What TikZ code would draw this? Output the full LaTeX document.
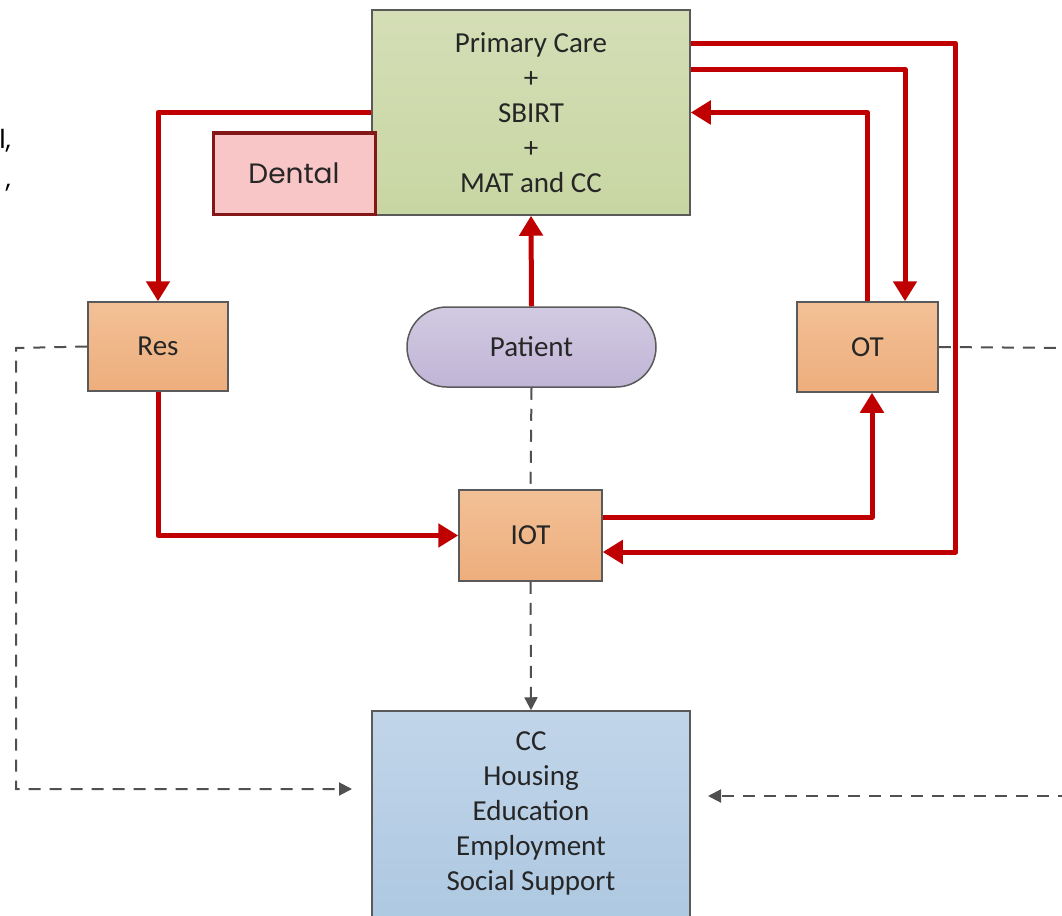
\documentclass[tikz,border=0pt]{standalone}
\usepackage{fontspec}
\setmainfont{Carlito}
\newfontfamily\dentalfont{Poppins}
\usetikzlibrary{arrows.meta,shapes.misc}
\definecolor{arrred}{HTML}{C00000}
\definecolor{dentborder}{HTML}{841717}
\definecolor{boxborder}{HTML}{5A5A5A}
\definecolor{dashgray}{HTML}{505050}
\tikzset{
  box/.style={draw=boxborder,line width=1.5pt,rectangle,inner sep=0pt,align=center,
    font=\fontsize{29}{35}\selectfont,text=black!85},
  orangebox/.style={box,top color={rgb,255:red,242;green,192;blue,150},bottom color={rgb,255:red,238;green,174;blue,124}},
  redarrow/.style={draw=arrred,line width=5pt,line join=round,-{Triangle[length=20pt,width=23pt]}},
  dashline/.style={draw=dashgray,line width=2pt,dash pattern=on 12pt off 9pt},
  dasharrow/.style={dashline,-{Triangle[length=13pt,width=13pt]}},
}
\begin{document}
\begin{tikzpicture}[x=1pt,y=-1pt]
\useasboundingbox (0,0) rectangle (1062,915);
% CC background rectangle (extends beyond bottom)
\path[draw=boxborder,line width=1.5pt,top color={rgb,255:red,193;green,213;blue,233},bottom color={rgb,255:red,170;green,198;blue,224}] (372,711) rectangle (690,960);
\node[box,draw=none,minimum width=318pt,minimum height=204pt] (CC) at (531,813) {CC\\Housing\\Education\\Employment\\Social Support};
% nodes
\node[box,minimum width=318pt,minimum height=205pt,top color={rgb,255:red,213;green,222;blue,182},bottom color={rgb,255:red,200;green,214;blue,163}] (PC) at (531,112.5) {Primary Care\\+\\SBIRT\\+\\MAT and CC};
\node[box,draw=dentborder,line width=3pt,fill={rgb,255:red,248;green,198;blue,198},minimum width=162pt,minimum height=81pt,font=\dentalfont\fontsize{28}{32}\selectfont] (Dental) at (294,173.5) {Dental};
\node[orangebox,minimum width=140pt,minimum height=89pt] (Res) at (158,346.5) {Res};
\node[box,rounded rectangle,minimum width=249pt,minimum height=80pt,top color={rgb,255:red,210;green,202;blue,226},bottom color={rgb,255:red,192;green,181;blue,214}] (Patient) at (531.5,347) {Patient};
\node[orangebox,minimum width=141pt,minimum height=90pt] (OT) at (867.5,347) {OT};
\node[orangebox,minimum width=143pt,minimum height=91pt] (IOT) at (530.5,535.5) {IOT};
% text fragments at left edge
\node[anchor=base east,inner sep=0pt,font=\dentalfont\fontsize{26}{30}\selectfont] (frag1) at (11,149) {l,};
\node[anchor=base east,inner sep=0pt,font=\dentalfont\fontsize{26}{30}\selectfont] (frag2) at (11,187) {,};
% coordinates
\coordinate (lc) at (16,348);
\coordinate (cl) at (352,789);
\coordinate (rc) at (1070,348);
\coordinate (rb) at (1070,796);
\coordinate (cr) at (708,796);
% dashed connectors
\draw[dashline] (Patient.south) -- (IOT.north);
\draw[dasharrow] (IOT.south) -- (CC.north);
\draw[dasharrow] (Res.west) -- (lc) |- (cl);
\draw[dashline] (OT.east) -- (rc);
\draw[dasharrow] (rb) -- (cr);
% red connectors
\draw[redarrow] (PC.west) -| (Res.north);
\draw[redarrow] (Patient.north) -- (PC.south);
\draw[redarrow] ([yshift=-34pt]PC.north east) -- ++(265,0) |- ([yshift=-16.5pt]IOT.east);
\draw[redarrow] ([yshift=-60pt]PC.north east) -| ([xshift=37.5pt]OT.north);
\draw[redarrow] (OT.north) |- (PC.east);
\draw[redarrow] (Res.south) |- (IOT.west);
\draw[redarrow] ([yshift=18.5pt]IOT.east) -| ([xshift=4.5pt]OT.south);
\end{tikzpicture}
\end{document}
